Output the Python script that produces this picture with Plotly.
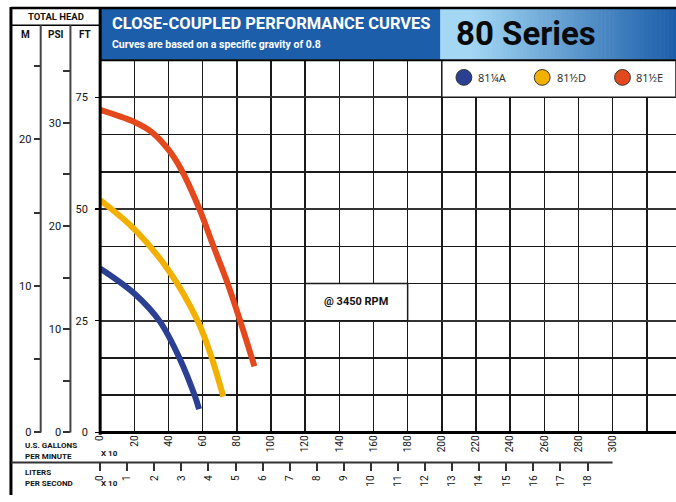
import plotly.graph_objects as go

# ---------------- data (US GPM vs total head in FT) ----------------
a_gpm = [0, 20, 35, 46.6, 55.3, 57.9]
a_ft = [36.7, 31.1, 24.8, 16.5, 8.3, 5.2]

d_gpm = [0, 20, 40, 57.3, 65.5, 72.1]
d_ft = [52.0, 45.5, 36.3, 24.8, 16.5, 8.0]

e_gpm = [0, 20, 30, 40, 47.4, 57.9, 66, 74.7, 82.1, 90.3]
e_ft = [72.2, 69.5, 67.3, 63.3, 58.9, 50.2, 42.0, 33.3, 24.8, 14.8]

series_names = ["81¼A", "81½D", "81½E"]
series_colors = ["#2b3f93", "#f2b000", "#e4491d"]

gpm_ticks = list(range(0, 321, 20))
gpm_labels = [str(v) if v <= 300 else "" for v in gpm_ticks]
lps_labels = [str(k) for k in range(0, 19)]
ft_ticks = [0, 25, 50, 75]

W, H = 676, 502
XMAX = 337.1
YMAX = 250 / 3.0
FT_PER_M = 3.2808
FT_PER_PSI = 2.31
GPM_PER_LPS = 15.8503

COND = "Roboto, Liberation Sans, sans-serif"


def px(x):
    return x / W


def py(y):
    return 1 - y / H


fig = go.Figure()
for g, f, n, c in zip([a_gpm, d_gpm, e_gpm], [a_ft, d_ft, e_ft], series_names, series_colors):
    fig.add_trace(go.Scatter(x=g, y=f, mode="lines", name=n, showlegend=False,
                             line=dict(color=c, width=6, shape="spline", smoothing=1.0),
                             hoverinfo="skip"))
fig.add_trace(go.Scatter(x=[None], y=[None], xaxis="x2", yaxis="y", showlegend=False))
fig.add_trace(go.Scatter(x=[None], y=[None], xaxis="x", yaxis="y2", showlegend=False))
fig.add_trace(go.Scatter(x=[None], y=[None], xaxis="x", yaxis="y3", showlegend=False))

shapes = []


def line(x0, y0, x1, y1, color="black", width=2):
    shapes.append(dict(type="line", xref="paper", yref="paper", x0=px(x0), x1=px(x1),
                       y0=py(y0), y1=py(y1), line=dict(color=color, width=width), layer="above"))


def rect(x0, y0, x1, y1, fill, layer="above"):
    shapes.append(dict(type="rect", xref="paper", yref="paper", x0=px(x0), x1=px(x1),
                       y0=py(y0), y1=py(y1), fillcolor=fill, line=dict(width=0), layer=layer))


rect(95, 8.5, 439, 60.5, "#1c5ea9")
light = (163, 215, 244)
dark = (28, 94, 169)
N = 60
x0g, x1g = 438, 676
for i in range(N):
    t = i / (N - 1)
    u = max(0.0, (t - 0.12) / 0.88)
    col = tuple(int(round(light[k] + (dark[k] - light[k]) * u)) for k in range(3))
    xa = x0g + (x1g - x0g) * i / N
    xb = x0g + (x1g - x0g) * (i + 1) / N + 0.6
    rect(xa, 8.5, xb, 60.5, "rgb(%d,%d,%d)" % col)

for (gx0, gx1, fy0, fy1) in [(200, XMAX, 75, YMAX), (120, 180, 25, 100 / 3.0)]:
    shapes.append(dict(type="rect", xref="x", yref="y", x0=gx0, x1=gx1, y0=fy0, y1=fy1,
                       fillcolor="white", line=dict(color="#1a1a1a", width=1.5), layer="between"))

line(5, 8, 676, 8, "black", 2.5)
line(95, 61, 676, 61, "black", 2)
line(5, 7, 5, 502, "black", 3)
line(5, 25.5, 95, 25.5, "black", 1.5)
line(35, 25.5, 35, 438.5, "#444444", 2)
line(65, 25.5, 65, 438.5, "#444444", 2)
line(95, 8, 95, 441, "black", 3)
line(95, 438.5, 676, 438.5, "black", 3)
line(5, 469, 612, 469, "#333333", 2)

for cx, c in zip([462, 541, 622], series_colors):
    shapes.append(dict(type="circle", xref="paper", yref="paper", x0=px(cx - 8), x1=px(cx + 8),
                       y0=py(86.5), y1=py(70.5), fillcolor=c, line=dict(color="#333", width=1),
                       layer="above"))

ann = []


def text(x, y, s, size, color="#111", bold=False, xanchor="left", family=COND):
    ann.append(dict(x=px(x), y=py(y), xref="paper", yref="paper", text=("<b>%s</b>" % s) if bold else s,
                    showarrow=False, xanchor=xanchor, yanchor="middle",
                    font=dict(size=size, color=color, family=family)))


text(50, 17, "TOTAL HEAD", 9.5, bold=True, xanchor="center")
text(20, 35, "M", 10, bold=True, xanchor="center")
text(50, 35, "PSI", 10, bold=True, xanchor="center")
text(80, 35, "FT", 10, bold=True, xanchor="center")
text(105, 24, "CLOSE-COUPLED PERFORMANCE CURVES", 16.5, "white", True)
text(105, 45, "Curves are based on a specific gravity of 0.8", 10.5, "white", True)
text(452, 34, "80 Series", 33, "#0a0a0a", True)
for cx, n in zip([474, 554, 634], series_names):
    text(cx, 79, n, 11, "#333", family="Noto Sans")
text(17, 452, "U.S. GALLONS", 8, bold=True)
text(17, 463, "PER MINUTE", 8, bold=True)
text(17, 479, "LITERS", 8, bold=True)
text(17, 490, "PER SECOND", 8, bold=True)
text(94, 460, "X 10", 8, bold=True)
text(94, 490, "X 10", 8, bold=True)
ann.append(dict(x=150, y=29.2, xref="x", yref="y", text="<b>@ 3450 RPM</b>", showarrow=False,
                font=dict(size=11, color="#111", family=COND)))

tickfont = dict(size=10, color="#111", family=COND)

fig.update_layout(
    width=W, height=H, margin=dict(l=0, r=0, t=0, b=0),
    paper_bgcolor="white", plot_bgcolor="white",
    showlegend=False,
    shapes=shapes, annotations=ann,
    xaxis=dict(domain=[95 / W, 1], range=[0, XMAX], tickvals=gpm_ticks, ticktext=gpm_labels,
               tickangle=-90, showgrid=True, gridcolor="#1a1a1a", gridwidth=1.5, zeroline=False,
               showline=False, ticks="", tickfont=tickfont, fixedrange=True),
    yaxis=dict(domain=[(H - 438.5) / H, (H - 61) / H], range=[0, YMAX], tickvals=ft_ticks,
               showgrid=True, gridcolor="#333", gridwidth=2, zeroline=False, showline=False,
               ticks="outside", ticklen=4, tickcolor="black", tickwidth=1.5, ticklabelstandoff=5,
               tickfont=dict(size=11, color="#111", family=COND),
               minor=dict(dtick=25 / 3.0, tick0=0, showgrid=True, gridcolor="#1a1a1a", gridwidth=1.5,
                          ticks=""),
               fixedrange=True),
    xaxis2=dict(overlaying="x", anchor="free", position=(H - 469) / H, side="bottom",
                range=[0, XMAX], tickvals=[k * GPM_PER_LPS for k in range(19)], ticktext=lps_labels,
                tickangle=-90, ticks="outside", ticklen=8, tickwidth=2, tickcolor="#333",
                showgrid=False, zeroline=False, showline=False, tickfont=tickfont),
    yaxis2=dict(overlaying="y", anchor="free", position=35 / W, side="left",
                range=[0, YMAX / FT_PER_M], dtick=10, tick0=0, ticks="outside", ticklen=7, tickwidth=2,
                tickcolor="#333", showgrid=False, zeroline=False, showline=False,
                tickfont=dict(size=11, color="#111", family=COND),
                minor=dict(dtick=5, tick0=0, ticks="outside", ticklen=7, tickwidth=2, tickcolor="#333")),
    yaxis3=dict(overlaying="y", anchor="free", position=65 / W, side="left",
                range=[0, YMAX / FT_PER_PSI], dtick=10, tick0=0, ticks="outside", ticklen=7, tickwidth=2,
                tickcolor="#333", showgrid=False, zeroline=False, showline=False,
                tickfont=dict(size=11, color="#111", family=COND),
                minor=dict(dtick=5, tick0=0, ticks="outside", ticklen=7, tickwidth=2, tickcolor="#333")),
)

fig.write_html("out.html", config={"displayModeBar": False, "staticPlot": True},
               post_script="document.body.style.margin='0';document.body.style.overflow='hidden';")
